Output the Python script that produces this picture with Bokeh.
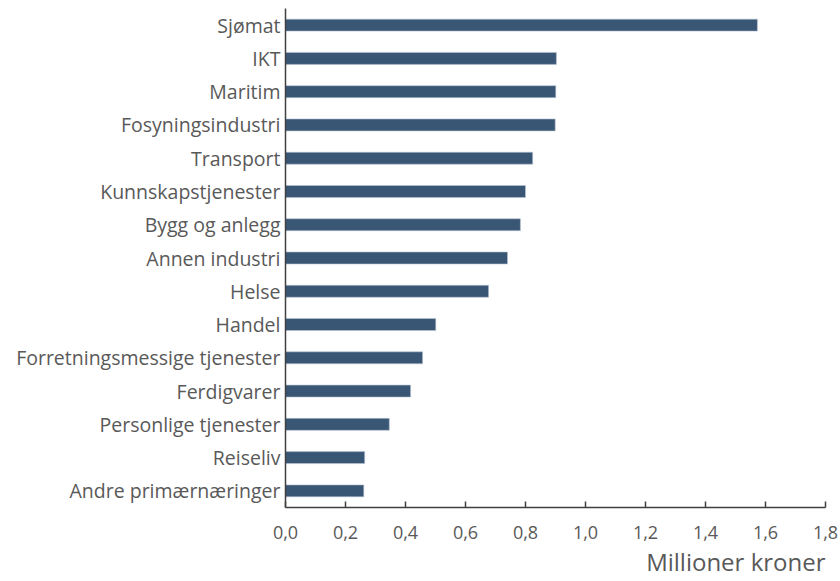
from bokeh.plotting import figure
from bokeh.models import FactorRange, Range1d, CustomJSTickFormatter, Title, FixedTicker, ColumnDataSource
from bokeh.embed import file_html
from bokeh.resources import INLINE

categories = ["Sjømat", "IKT", "Maritim", "Fosyningsindustri", "Transport",
              "Kunnskapstjenester", "Bygg og anlegg", "Annen industri", "Helse",
              "Handel", "Forretningsmessige tjenester", "Ferdigvarer",
              "Personlige tjenester", "Reiseliv", "Andre primærnæringer"]
values = [1.573, 0.903, 0.901, 0.899, 0.824, 0.800, 0.783, 0.740, 0.677,
          0.501, 0.457, 0.417, 0.346, 0.264, 0.261]
x_ticks = [0.0, 0.2, 0.4, 0.6, 0.8, 1.0, 1.2, 1.4, 1.6, 1.8]
axis_title = "Millioner kroner"

FONT = "Open Sans"
TXT = "#595959"

src = ColumnDataSource(dict(cat=categories, val=values))

p = figure(width=838, height=580, output_backend="svg", toolbar_location=None,
           y_range=FactorRange(factors=list(reversed(categories)), range_padding=0),
           x_range=Range1d(0, 1.8))
p.min_border_left = 285
p.min_border_right = 13
p.min_border_top = 8
p.min_border_bottom = 73

p.hbar(y="cat", right="val", left=0, height=0.36, source=src,
       fill_color="#3a5675", line_color="#b8c5d3", line_width=0.6)

p.outline_line_color = None
p.grid.grid_line_color = None
p.background_fill_color = "white"
p.border_fill_color = "white"

xa = p.xaxis[0]
xa.ticker = FixedTicker(ticks=x_ticks)
xa.formatter = CustomJSTickFormatter(code="return tick.toFixed(1).replace('.', ',');")
xa.major_tick_in = 6
xa.major_tick_out = 0
xa.minor_tick_line_color = None
xa.axis_line_color = "#404040"
xa.axis_line_width = 1.5
xa.major_tick_line_color = "#404040"
xa.major_tick_line_width = 1.5
xa.major_label_text_font = FONT
xa.major_label_text_font_size = "18px"
xa.major_label_text_color = TXT
xa.major_label_standoff = 18

ya = p.yaxis[0]
ya.major_tick_in = 0
ya.major_tick_out = 0
ya.minor_tick_line_color = None
ya.axis_line_color = "#404040"
ya.axis_line_width = 1.5
ya.major_label_text_font = FONT
ya.major_label_text_font_size = "19.5px"
ya.major_label_text_color = TXT
ya.major_label_standoff = 5

t = Title(text=axis_title, align="right", text_font=FONT, text_font_size="24px",
          text_font_style="normal", text_color=TXT, offset=0, standoff=2)
p.add_layout(t, "below")

open("out.html", "w").write(file_html(p, INLINE))
